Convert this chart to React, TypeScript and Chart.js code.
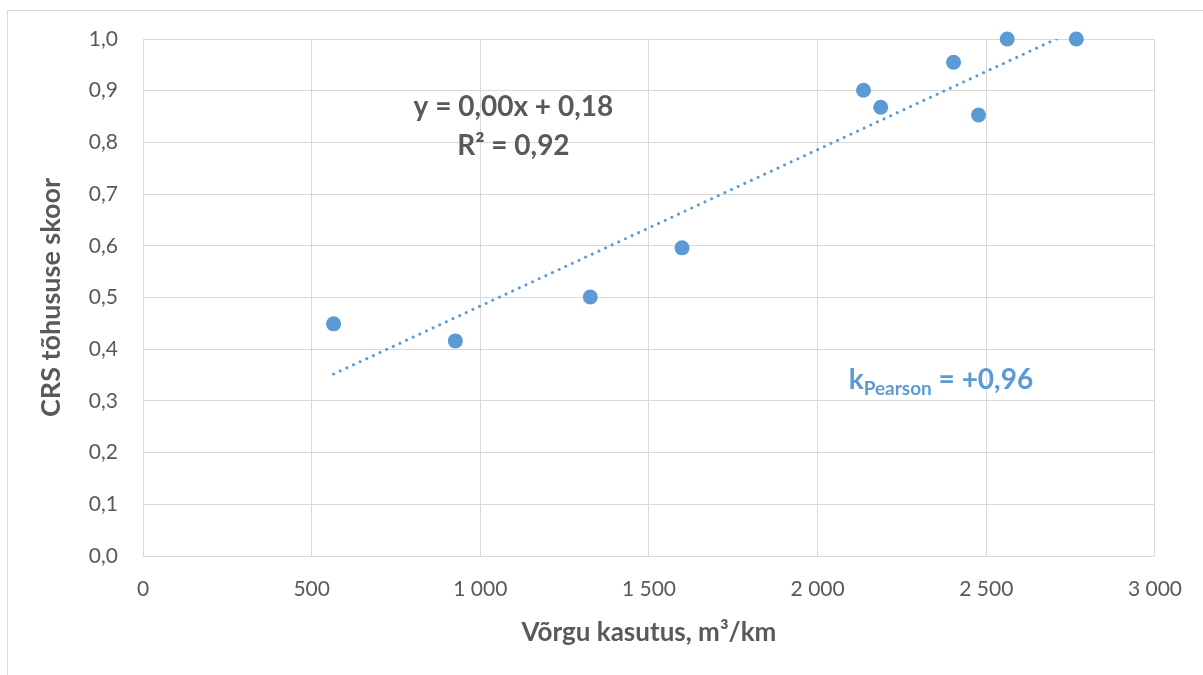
import React, { useEffect, useRef } from "react";
import { Chart, registerables } from "chart.js";

Chart.register(...registerables);

// Data
const usageX: number[] = [565, 926, 1326, 1598, 2136, 2187, 2403, 2477, 2562, 2767];
const scoreY: number[] = [0.449, 0.416, 0.501, 0.596, 0.901, 0.868, 0.955, 0.853, 1.0, 1.0];
const trendX: number[] = [565, 2767];
const trendY: number[] = [0.352, 1.018];

const xTitle = "Võrgu kasutus, m³/km";
const yTitle = "CRS tõhususe skoor";
const eqLine1 = "y = 0,00x + 0,18";
const eqLine2 = "R² = 0,92";
const pearsonMain = "k";
const pearsonSub = "Pearson";
const pearsonValue = " = +0,96";

const FONT = "Lato, 'Open Sans', sans-serif";
const GREY = "#595959";
const BLUE = "#5B9BD5";
const GRID = "#D9D9D9";

const fmtX = (v: number) => {
  const s = Math.round(v).toString();
  return s.length > 3 ? s.slice(0, s.length - 3) + " " + s.slice(-3) : s;
};
const fmtY = (v: number) => v.toFixed(1).replace(".", ",");

const annotationPlugin = {
  id: "annot",
  afterDatasetsDraw(chart: any) {
    const { ctx, scales } = chart;
    const xs = scales.x;
    const ys = scales.y;
    ctx.save();
    ctx.fillStyle = GREY;
    ctx.font = `bold 28px ${FONT}`;
    ctx.textAlign = "center";
    ctx.textBaseline = "middle";
    const ex = xs.getPixelForValue(1098);
    ctx.fillText(eqLine1, ex, ys.getPixelForValue(0.868));
    ctx.fillText(eqLine2, ex, ys.getPixelForValue(0.793));

    ctx.fillStyle = BLUE;
    ctx.textAlign = "left";
    let px = xs.getPixelForValue(2092);
    const py = ys.getPixelForValue(0.34);
    ctx.font = `bold 28px ${FONT}`;
    ctx.fillText(pearsonMain, px, py);
    px += ctx.measureText(pearsonMain).width;
    ctx.font = `bold 19px ${FONT}`;
    ctx.fillText(pearsonSub, px, py + 9);
    px += ctx.measureText(pearsonSub).width;
    ctx.font = `bold 28px ${FONT}`;
    ctx.fillText(pearsonValue, px, py);
    ctx.restore();
  },
};

export default function App() {
  const ref = useRef<HTMLCanvasElement | null>(null);
  useEffect(() => {
    if (!ref.current) return;
    const points = usageX.map((x, i) => ({ x, y: scoreY[i] }));
    const trend = trendX.map((x, i) => ({ x, y: trendY[i] }));
    const chart = new Chart(ref.current, {
      type: "scatter",
      data: {
        datasets: [
          {
            label: "CRS",
            data: points,
            backgroundColor: BLUE,
            borderColor: BLUE,
            pointRadius: 7.5,
            pointBorderWidth: 0,
            showLine: false,
            clip: false as any,
          },
          {
            label: "Trend",
            data: trend,
            showLine: true,
            borderColor: BLUE,
            borderWidth: 3,
            borderDash: [0.01, 7.3],
            borderCapStyle: "round",
            pointRadius: 0,
            fill: false,
          } as any,
        ],
      },
      options: {
        animation: false,
        responsive: false,
        devicePixelRatio: 1,
        layout: { padding: { left: 0, right: 46, top: 39, bottom: 0 } },
        plugins: { legend: { display: false }, tooltip: { enabled: false } },
        scales: {
          x: {
            type: "linear",
            min: 0,
            max: 3000,
            afterFit: (s: any) => {
              s.height = 119;
            },
            ticks: {
              stepSize: 500,
              color: GREY,
              padding: 21,
              font: { family: FONT, size: 21 },
              callback: (v: any) => fmtX(Number(v)),
              maxRotation: 0,
            },
            grid: { color: GRID, lineWidth: 1, drawTicks: false },
            border: { color: GRID, width: 1 },
            title: {
              display: true,
              text: xTitle,
              color: GREY,
              font: { family: FONT, size: 26, weight: "bold" },
              padding: { top: 0, bottom: 27 },
            },
          },
          y: {
            type: "linear",
            min: 0,
            max: 1,
            afterFit: (s: any) => {
              s.width = 143;
            },
            ticks: {
              stepSize: 0.1,
              color: GREY,
              padding: 25,
              font: { family: FONT, size: 21 },
              callback: (v: any) => fmtY(Number(v)),
            },
            grid: { color: GRID, lineWidth: 1, drawTicks: false },
            border: { color: GRID, width: 1 },
            title: {
              display: true,
              text: yTitle,
              color: GREY,
              font: { family: FONT, size: 27, weight: "bold" },
              padding: { top: 35, bottom: 0 },
            },
          },
        },
      },
      plugins: [annotationPlugin],
    });
    return () => chart.destroy();
  }, []);

  return (
    <div
      style={{
        position: "fixed",
        left: 0,
        top: 0,
        width: 1203,
        height: 675,
        overflow: "hidden",
        background: "#fff",
      }}
    >
      <div
        style={{
          position: "absolute",
          left: 7,
          top: 10,
          width: 1400,
          height: 1000,
          border: "1px solid #D9D9D9",
        }}
      />
      <canvas
        ref={ref}
        width={1203}
        height={675}
        style={{ position: "absolute", left: 0, top: 0, width: 1203, height: 675 }}
      />
    </div>
  );
}
